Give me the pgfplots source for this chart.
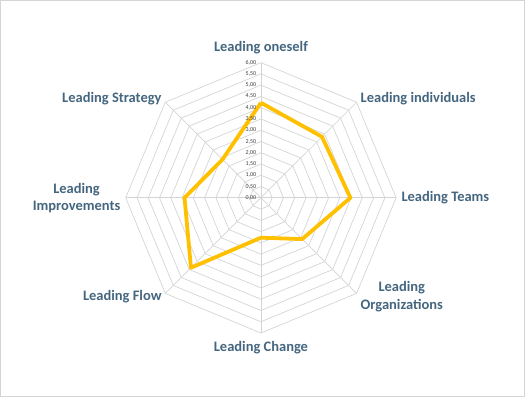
\documentclass[border=0pt]{standalone}
\usepackage{pgfplots}
\pgfplotsset{compat=1.18}
\usepackage{fontspec}
\setmainfont{Carlito}
\definecolor{lbl}{HTML}{44667F}
\definecolor{gridc}{HTML}{D4D4D4}
\definecolor{serie}{HTML}{FFC000}
\definecolor{tickc}{HTML}{404040}
\begin{document}
\begin{tikzpicture}
\begin{axis}[
  x=22.57pt, y=22.57pt,
  scale only axis,
  xmin=-11.56, xmax=11.70,
  ymin=-8.79, ymax=8.76,
  hide axis,
  clip=false,
]
% grid polygons
\pgfplotsinvokeforeach{0.5,1,1.5,2,2.5,3,3.5,4,4.5,5,5.5,6}{
  \addplot[gridc, line width=0.7pt, data cs=polar, forget plot]
    coordinates {(90,#1) (45,#1) (0,#1) (-45,#1) (-90,#1) (-135,#1) (180,#1) (135,#1) (90,#1)};
}
% spokes
\pgfplotsinvokeforeach{90,45,0,-45,-90,-135,180,135}{
  \addplot[gridc, line width=0.7pt, data cs=polar, forget plot]
    coordinates {(#1,0) (#1,6)};
}
% data
\addplot[serie, line width=3.8pt, line join=round, data cs=polar]
  coordinates {(90,4.22) (45,3.83) (0,3.97) (-45,2.59) (-90,1.77) (-135,4.39) (180,3.39) (135,2.41) (90,4.22)};
% tick labels
\begin{scope}[every node/.style={anchor=east, font=\fontsize{6}{7}\selectfont, text=tickc, inner sep=0pt}]
\node at (axis cs:-0.2,0) {0,00};
\node at (axis cs:-0.2,0.5) {0,50};
\node at (axis cs:-0.2,1) {1,00};
\node at (axis cs:-0.2,1.5) {1,50};
\node at (axis cs:-0.2,2) {2,00};
\node at (axis cs:-0.2,2.5) {2,50};
\node at (axis cs:-0.2,3) {3,00};
\node at (axis cs:-0.2,3.5) {3,50};
\node at (axis cs:-0.2,4) {4,00};
\node at (axis cs:-0.2,4.5) {4,50};
\node at (axis cs:-0.2,5) {5,00};
\node at (axis cs:-0.2,5.5) {5,50};
\node at (axis cs:-0.2,6) {6,00};
\end{scope}
% category labels
\begin{scope}[every node/.style={font=\bfseries\fontsize{14.5}{17.5}\selectfont, text=lbl, inner sep=0pt}]
\node[anchor=center] at (axis cs:0,6.66) {Leading oneself};
\node[anchor=west] at (axis cs:4.42,4.40) {Leading individuals};
\node[anchor=west] at (axis cs:6.23,0) {Leading Teams};
\node[anchor=center, align=center] at (axis cs:6.25,-4.39) {Leading\\Organizations};
\node[anchor=center] at (axis cs:0,-6.65) {Leading Change};
\node[anchor=east] at (axis cs:-4.40,-4.39) {Leading Flow};
\node[anchor=center, align=center] at (axis cs:-8.18,0) {Leading\\Improvements};
\node[anchor=east] at (axis cs:-4.40,4.40) {Leading Strategy};
\end{scope}
\draw[gridc, line width=0.8pt] (rel axis cs:0,0) rectangle (rel axis cs:1,1);
\end{axis}
\end{tikzpicture}
\end{document}
